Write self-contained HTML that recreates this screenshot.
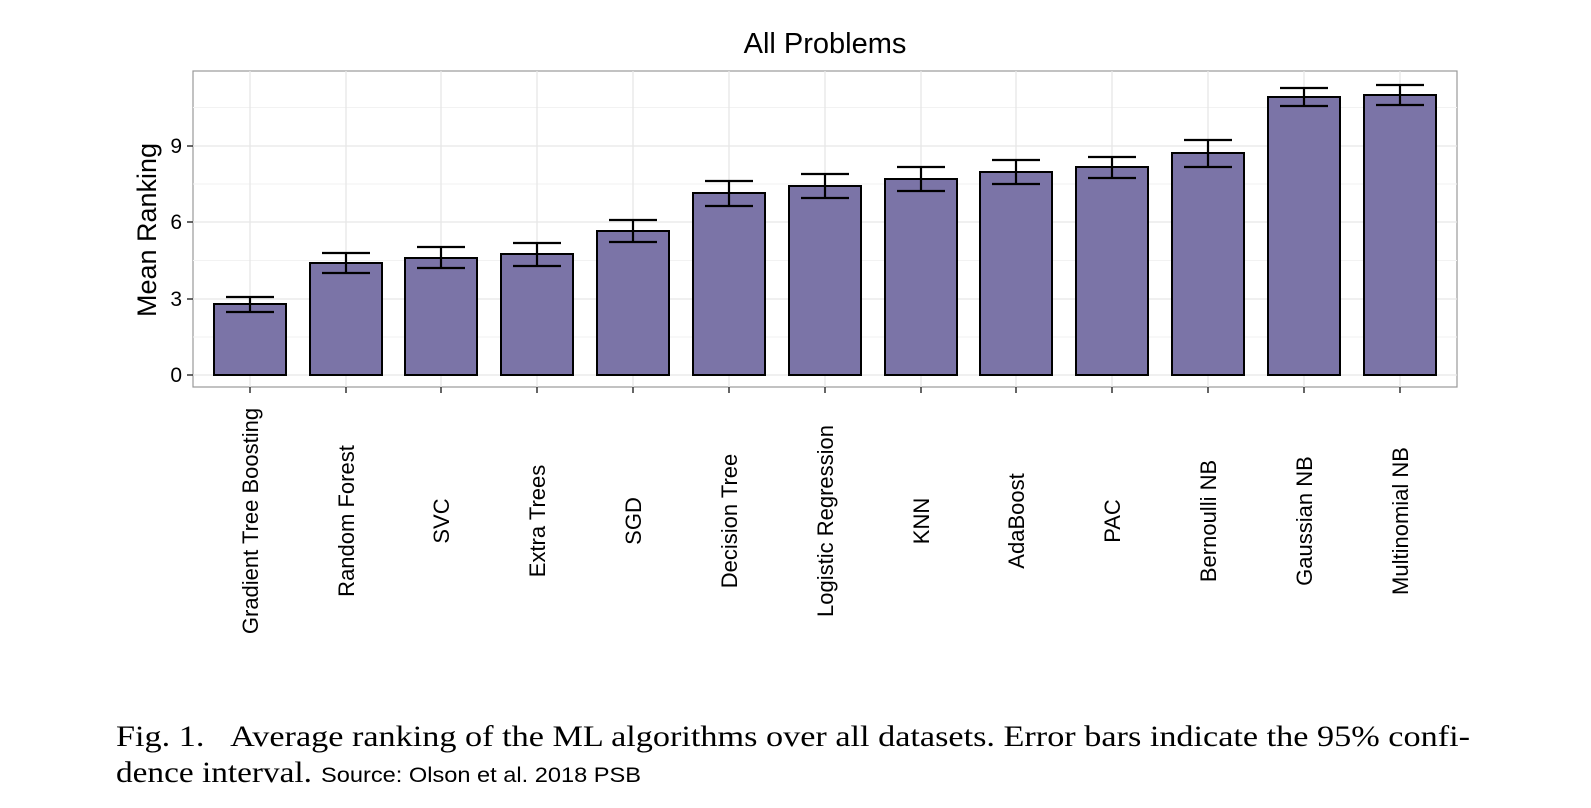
<!DOCTYPE html>
<html><head><meta charset="utf-8"><style>
body{margin:0;background:#fff;width:1591px;height:808px;overflow:hidden}
svg{display:block}
</style></head><body>
<svg width="1591" height="808" xmlns="http://www.w3.org/2000/svg" font-family="Liberation Sans, sans-serif">
<text x="825" y="53" font-size="29" text-anchor="middle" fill="#000">All Problems</text>
<rect x="193" y="71" width="1264" height="316" fill="#fff" stroke="#999" stroke-width="1.2"/>
<g stroke="#f2f2f2" stroke-width="1">
<line x1="193" x2="1457" y1="337" y2="337"/><line x1="193" x2="1457" y1="260.5" y2="260.5"/><line x1="193" x2="1457" y1="184" y2="184"/><line x1="193" x2="1457" y1="107.5" y2="107.5"/>
</g>
<g stroke="#e6e6e6" stroke-width="1.3">
<line x1="193" x2="1457" y1="375" y2="375"/><line x1="193" x2="1457" y1="299" y2="299"/><line x1="193" x2="1457" y1="222" y2="222"/><line x1="193" x2="1457" y1="146" y2="146"/>
<line x1="250" x2="250" y1="71" y2="387"/><line x1="346" x2="346" y1="71" y2="387"/><line x1="441" x2="441" y1="71" y2="387"/><line x1="537" x2="537" y1="71" y2="387"/><line x1="633" x2="633" y1="71" y2="387"/><line x1="729" x2="729" y1="71" y2="387"/><line x1="825" x2="825" y1="71" y2="387"/><line x1="921" x2="921" y1="71" y2="387"/><line x1="1016" x2="1016" y1="71" y2="387"/><line x1="1112" x2="1112" y1="71" y2="387"/><line x1="1208" x2="1208" y1="71" y2="387"/><line x1="1304" x2="1304" y1="71" y2="387"/><line x1="1400" x2="1400" y1="71" y2="387"/>
</g>
<g fill="#7b74a7" stroke="#000" stroke-width="2">
<rect x="214" y="304" width="72" height="71"/>
<rect x="310" y="263" width="72" height="112"/>
<rect x="405" y="258" width="72" height="117"/>
<rect x="501" y="254" width="72" height="121"/>
<rect x="597" y="231" width="72" height="144"/>
<rect x="693" y="193" width="72" height="182"/>
<rect x="789" y="186" width="72" height="189"/>
<rect x="885" y="179" width="72" height="196"/>
<rect x="980" y="172" width="72" height="203"/>
<rect x="1076" y="167" width="72" height="208"/>
<rect x="1172" y="153" width="72" height="222"/>
<rect x="1268" y="97" width="72" height="278"/>
<rect x="1364" y="95" width="72" height="280"/>
</g>
<g stroke="#000" stroke-width="2.2" fill="none">
<path d="M226 297h48M226 312h48M250 297v15"/>
<path d="M322 253h48M322 273h48M346 253v20"/>
<path d="M417 247h48M417 268h48M441 247v21"/>
<path d="M513 243h48M513 266h48M537 243v23"/>
<path d="M609 220h48M609 242h48M633 220v22"/>
<path d="M705 181h48M705 206h48M729 181v25"/>
<path d="M801 174h48M801 198h48M825 174v24"/>
<path d="M897 167h48M897 191h48M921 167v24"/>
<path d="M992 160h48M992 184h48M1016 160v24"/>
<path d="M1088 157h48M1088 178h48M1112 157v21"/>
<path d="M1184 140h48M1184 167h48M1208 140v27"/>
<path d="M1280 88h48M1280 106h48M1304 88v18"/>
<path d="M1376 85h48M1376 105h48M1400 85v20"/>
</g>
<g stroke="#333" stroke-width="1.5">
<path d="M187 375h6M187 299h6M187 222h6M187 146h6"/>
<path d="M250 387v6M346 387v6M441 387v6M537 387v6M633 387v6M729 387v6M825 387v6M921 387v6M1016 387v6M1112 387v6M1208 387v6M1304 387v6M1400 387v6"/>
</g>
<g font-size="21" fill="#000" text-anchor="end">
<text x="182" y="382">0</text><text x="182" y="306">3</text><text x="182" y="229">6</text><text x="182" y="153">9</text>
</g>
<text transform="translate(156,230) rotate(-90)" font-size="27" text-anchor="middle">Mean Ranking</text>
<g font-size="22" text-anchor="middle" fill="#000">
<text transform="translate(258,521) rotate(-90)">Gradient Tree Boosting</text>
<text transform="translate(354,521) rotate(-90)">Random Forest</text>
<text transform="translate(449,521) rotate(-90)">SVC</text>
<text transform="translate(545,521) rotate(-90)">Extra Trees</text>
<text transform="translate(641,521) rotate(-90)">SGD</text>
<text transform="translate(737,521) rotate(-90)">Decision Tree</text>
<text transform="translate(833,521) rotate(-90)">Logistic Regression</text>
<text transform="translate(929,521) rotate(-90)">KNN</text>
<text transform="translate(1024,521) rotate(-90)">AdaBoost</text>
<text transform="translate(1120,521) rotate(-90)">PAC</text>
<text transform="translate(1216,521) rotate(-90)">Bernoulli NB</text>
<text transform="translate(1312,521) rotate(-90)">Gaussian NB</text>
<text transform="translate(1408,521) rotate(-90)">Multinomial NB</text>
</g>
<text x="116" y="746" font-family="Liberation Serif, serif" font-size="30" fill="#000" textLength="1354" lengthAdjust="spacingAndGlyphs">Fig. 1.&#160;&#160;&#160;Average ranking of the ML algorithms over all datasets. Error bars indicate the 95% confi-</text>
<text x="116" y="782" font-family="Liberation Serif, serif" font-size="30" fill="#000" textLength="196" lengthAdjust="spacingAndGlyphs">dence interval.</text>
<text x="321" y="782" font-size="21" fill="#000" textLength="320" lengthAdjust="spacingAndGlyphs">Source: Olson et al. 2018 PSB</text>
</svg>
</body></html>
